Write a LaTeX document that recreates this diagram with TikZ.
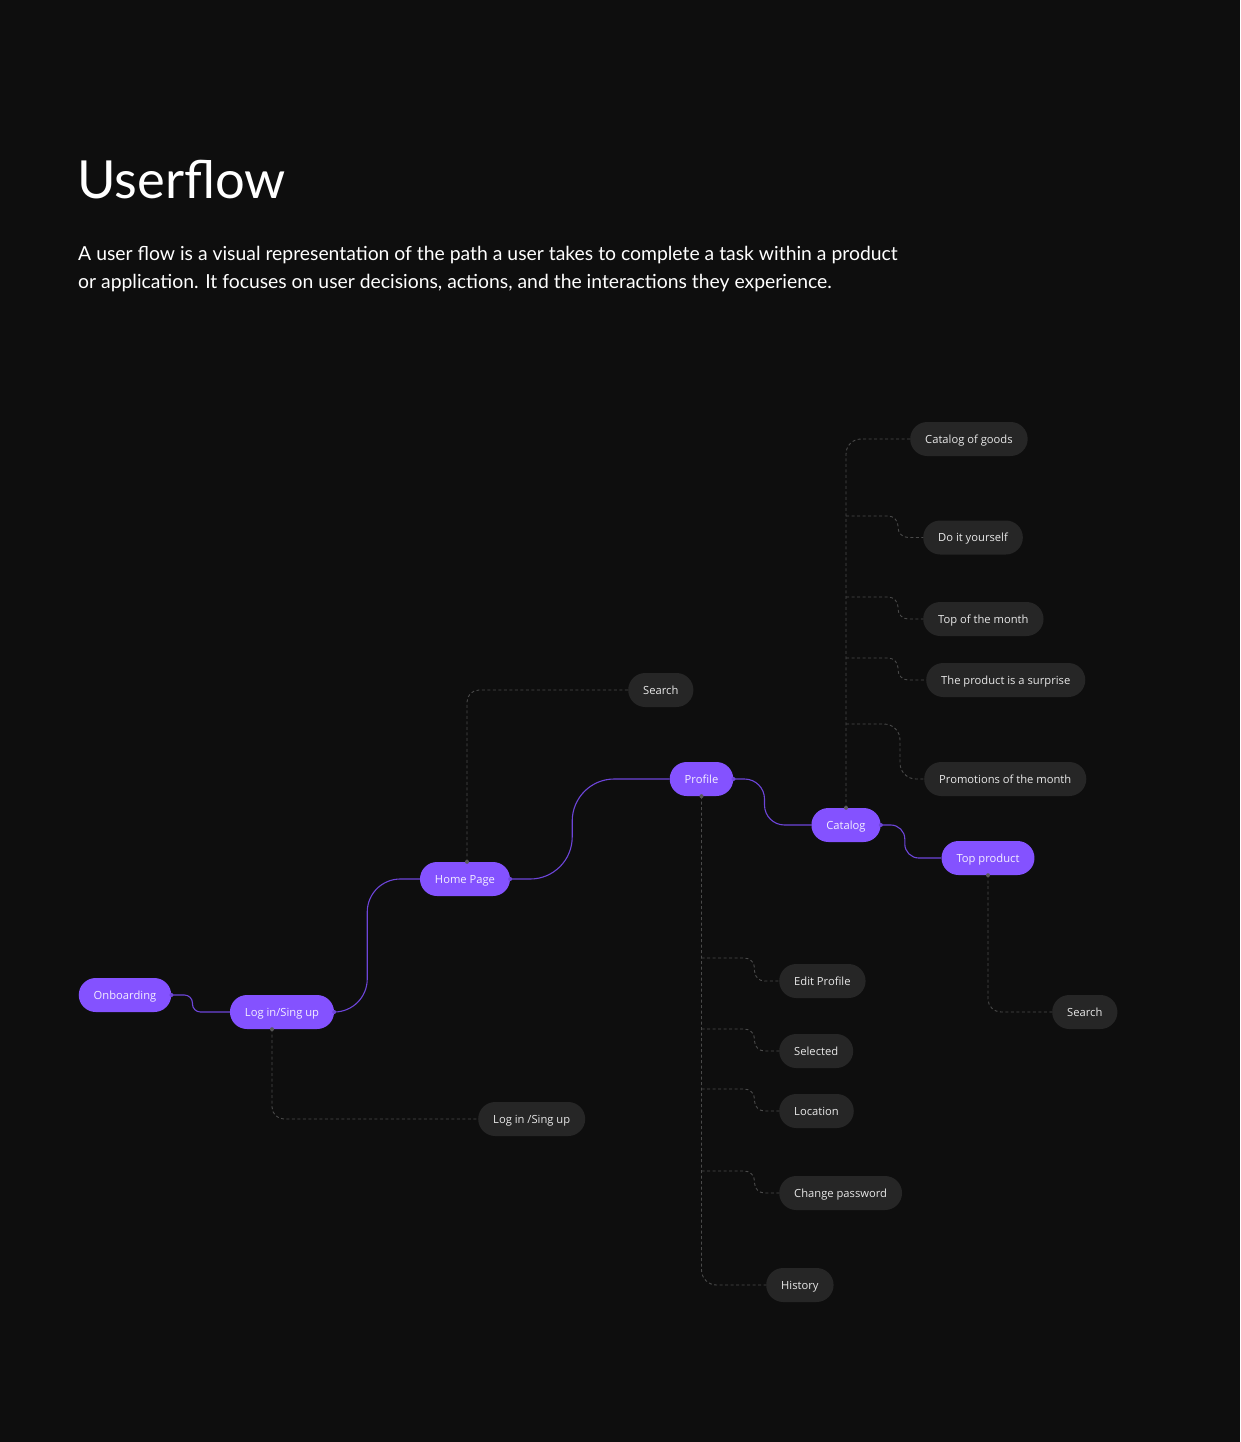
\documentclass[tikz,border=0pt]{standalone}
\usepackage{fontspec}
\setmainfont{Open Sans}
\newfontfamily\headfont{Lato}
\definecolor{bg}{HTML}{0E0E0E}
\definecolor{pfill}{HTML}{8452FF}
\definecolor{ptext}{HTML}{F3EEFF}
\definecolor{gfill}{HTML}{262626}
\definecolor{gtext}{HTML}{E8E8E8}
\definecolor{pline}{HTML}{6D45D9}
\definecolor{dline}{HTML}{4A4A4A}
\definecolor{dotc}{HTML}{5A5A5A}
\begin{document}
\begin{tikzpicture}[x=1pt,y=-1pt,
 box/.style={rounded corners=17pt, minimum height=34pt, inner xsep=15pt, inner ysep=0pt,
   text height=8pt, text depth=0pt, font=\fontsize{11.2}{13}\selectfont},
 pbox/.style={box, fill=pfill, text=ptext},
 gbox/.style={box, fill=gfill, text=gtext, anchor=west},
 pflow/.style={draw=pline, line width=1.1pt},
 dflow/.style={draw=dline, line width=0.9pt, dash pattern=on 3pt off 2.5pt},
 pdot/.style={circle, fill=pline, inner sep=0pt, minimum size=4pt},
 gdot/.style={circle, fill=dotc, inner sep=0pt, minimum size=4pt},
 headline/.style={anchor=base west, inner sep=0pt, text=white},
]
\fill[bg] (0,0) rectangle (1240,1442);

% heading
\node[headline, font=\headfont\fontsize{52.5}{60}\selectfont] (title) at (77,198) {Userflow};
\node[headline, font=\headfont\fontsize{19.35}{24}\selectfont] (body1) at (78,260)
  {A user flow is a visual representation of the path a user takes to complete a task within a product};
\node[headline, font=\headfont\fontsize{19.35}{24}\selectfont] (body2) at (78,288)
  {or application. It focuses on user decisions, actions, and the interactions they experience.};

% main (purple) nodes
\node[pbox] (ob) at (125,995) {Onboarding};
\node[pbox] (li) at (282,1012) {Log in/Sing up};
\node[pbox] (hp) at (465,879) {Home Page};
\node[pbox] (pr) at (701.5,779) {Profile};
\node[pbox] (ca) at (846,825) {Catalog};
\node[pbox] (tp) at (988,858) {Top product};

% secondary (gray) nodes
\node[gbox] (s1) at (628,690) {Search};
\node[gbox] (cg) at (910,439) {Catalog of goods};
\node[gbox] (dy) at (923,537.5) {Do it yourself};
\node[gbox] (tm) at (923,619) {Top of the month};
\node[gbox] (ps) at (926,680) {The product is a surprise};
\node[gbox] (pm) at (924,779) {Promotions of the month};
\node[gbox] (ed) at (779,981) {Edit Profile};
\node[gbox] (se) at (779,1051) {Selected};
\node[gbox] (lo) at (779,1111) {Location};
\node[gbox] (cp) at (779,1193) {Change password};
\node[gbox] (hi) at (766,1285) {History};
\node[gbox] (s2) at (1052,1012) {Search};
\node[gbox] (lg) at (478,1119) {Log in /Sing up};

% purple connectors
\draw[pflow, rounded corners=8pt] (ob.east) -- ++(21,0) |- (li.west);
\draw[pflow, rounded corners=33pt] (li.east) -- ++(33,0) |- (hp.west);
\draw[pflow, rounded corners=42pt] (hp.east) -- ++(62,0) |- (pr.west);
\draw[pflow, rounded corners=20pt] (pr.east) -- ++(31,0) |- (ca.west);
\draw[pflow, rounded corners=14pt] (ca.east) -- ++(24,0) |- (tp.west);

% dashed connectors
\coordinate (hpt) at ([xshift=2pt]hp.north);
\coordinate (lib) at ([xshift=-10pt]li.south);
\draw[dflow, rounded corners=12pt] (hpt) |- (s1.west);
\draw[dflow, rounded corners=12pt] (lib) |- (lg.west);
\draw[dflow, rounded corners=13pt] (tp.south) |- (s2.west);

\draw[dflow, rounded corners=15pt] (pr.south) |- (hi.west);
\coordinate (pb1) at (pr.south |- 0,958);
\coordinate (pb2) at (pr.south |- 0,1029);
\coordinate (pb3) at (pr.south |- 0,1089);
\coordinate (pb4) at (pr.south |- 0,1171);
\draw[dflow, rounded corners=10pt] (pb1) -- ++(53,0) |- (ed.west);
\draw[dflow, rounded corners=10pt] (pb2) -- ++(53,0) |- (se.west);
\draw[dflow, rounded corners=10pt] (pb3) -- ++(53,0) |- (lo.west);
\draw[dflow, rounded corners=10pt] (pb4) -- ++(53,0) |- (cp.west);

\draw[dflow, rounded corners=15pt] (ca.north) |- (cg.west);
\coordinate (cb1) at (ca.north |- 0,516);
\coordinate (cb2) at (ca.north |- 0,597);
\coordinate (cb3) at (ca.north |- 0,658);
\coordinate (cb4) at (ca.north |- 0,724);
\draw[dflow, rounded corners=10pt] (cb1) -- ++(52,0) |- (dy.west);
\draw[dflow, rounded corners=10pt] (cb2) -- ++(52,0) |- (tm.west);
\draw[dflow, rounded corners=10pt] (cb3) -- ++(52,0) |- (ps.west);
\draw[dflow, rounded corners=16pt] (cb4) -- ++(54,0) |- (pm.west);

% dots
\node[pdot] (d1) at (ob.east) {};
\node[pdot] (d2) at (li.east) {};
\node[pdot] (d3) at (hp.east) {};
\node[pdot] (d4) at (pr.east) {};
\node[pdot] (d5) at (ca.east) {};
\node[gdot] (g1) at (hpt) {};
\node[gdot] (g2) at (lib) {};
\node[gdot] (g3) at (pr.south) {};
\node[gdot] (g4) at (ca.north) {};
\node[gdot] (g5) at (tp.south) {};
\end{tikzpicture}
\end{document}
